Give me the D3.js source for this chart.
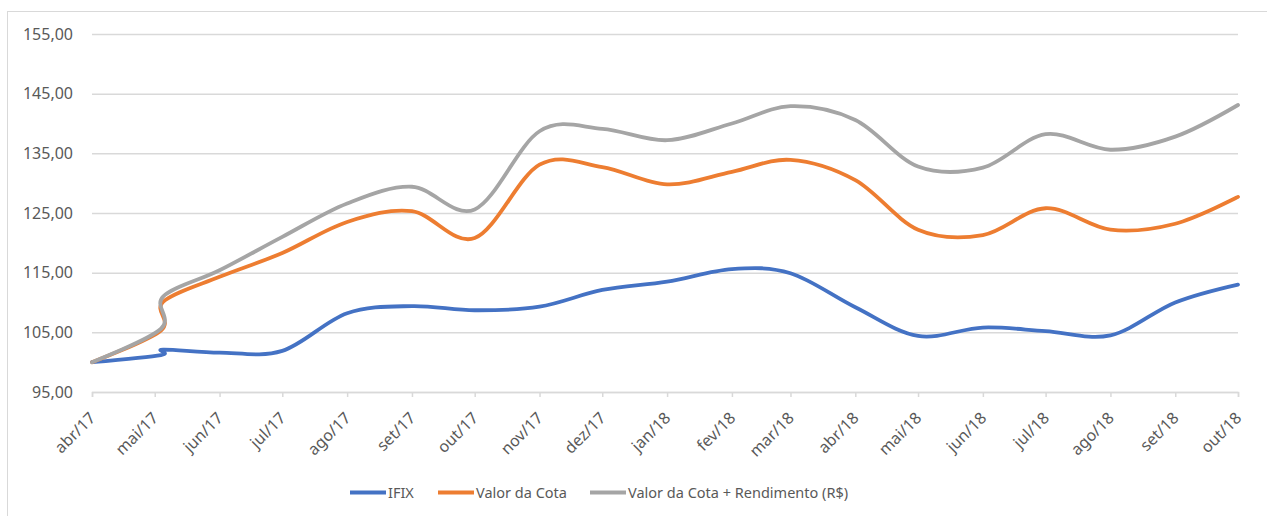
<!DOCTYPE html>
<html lang="pt">
  <head>
    <meta charset="UTF-8" />
    <title>IFIX x Valor da Cota</title>
    <script src="https://cdnjs.cloudflare.com/ajax/libs/d3/7.8.5/d3.min.js"></script>
    <style>
      body,
      html {
        margin: 0;
        padding: 0;
        background: #fff;
      }
      svg {
        display: block;
      }
      text {
        font-family: "Noto Sans", "Open Sans", sans-serif;
        fill: #595959;
      }
    </style>
  </head>
  <body>
    <svg width="1267" height="516"></svg>
    <script>
      // datas dos pontos (duas leituras no inicio de maio/17)
      const dates = [
        "2017-04-01", "2017-05-04", "2017-05-05", "2017-06-01", "2017-07-01",
        "2017-08-01", "2017-09-01", "2017-10-01", "2017-11-01", "2017-12-01",
        "2018-01-01", "2018-02-01", "2018-03-01", "2018-04-01", "2018-05-01",
        "2018-06-01", "2018-07-01", "2018-08-01", "2018-09-01", "2018-10-01",
      ];
      const ifix = [
        100.0, 101.2, 102.1, 101.6, 101.9, 108.2, 109.4, 108.7, 109.3, 112.1,
        113.5, 115.6, 114.9, 109.2, 104.4, 105.8, 105.2, 104.5, 110.0, 113.0,
      ];
      const valorCota = [
        100.0, 105.3, 110.1, 114.3, 118.3, 123.5, 125.3, 120.8, 133.1, 132.7,
        129.8, 131.9, 133.9, 130.5, 122.2, 121.3, 125.8, 122.2, 123.2, 127.7,
      ];
      const cotaRendimento = [
        100.0, 105.6, 111.0, 115.4, 121.0, 126.6, 129.4, 125.6, 138.7, 139.1,
        137.2, 140.0, 142.9, 140.6, 132.8, 132.6, 138.2, 135.6, 137.8, 143.1,
      ];
      const tickLabels = [
        "abr/17", "mai/17", "jun/17", "jul/17", "ago/17", "set/17", "out/17",
        "nov/17", "dez/17", "jan/18", "fev/18", "mar/18", "abr/18", "mai/18",
        "jun/18", "jul/18", "ago/18", "set/18", "out/18",
      ];
      const yTicks = [95, 105, 115, 125, 135, 145, 155];
      const seriesNames = ["IFIX", "Valor da Cota", "Valor da Cota + Rendimento (R$)"];
      const seriesColors = ["#4472C4", "#ED7D31", "#A5A5A5"];

      const parse = d3.timeParse("%Y-%m-%d");
      const xDates = dates.map(parse);
      const series = [ifix, valorCota, cotaRendimento].map((vals, i) => ({
        name: seriesNames[i],
        color: seriesColors[i],
        points: vals.map((v, j) => ({ date: xDates[j], value: v })),
      }));

      const br = d3.formatLocale({
        decimal: ",",
        thousands: ".",
        grouping: [3],
        currency: ["R$", ""],
      });
      const fmt = br.format(".2f");

      const svg = d3.select("svg");
      const margin = { left: 92, right: 29, top: 34, bottom: 124 };
      const width = 1267;
      const height = 516;

      const x = d3
        .scaleTime()
        .domain([xDates[0], xDates[xDates.length - 1]])
        .range([margin.left, width - margin.right]);
      const y = d3
        .scaleLinear()
        .domain([95, 155])
        .range([height - margin.bottom, margin.top]);

      // moldura do grafico
      svg
        .append("rect")
        .attr("x", 7.5)
        .attr("y", 11.5)
        .attr("width", 1300)
        .attr("height", 520)
        .attr("fill", "none")
        .attr("stroke", "#d9d9d9")
        .attr("stroke-width", 1);

      // grade horizontal e rotulos do eixo y
      const yAxis = d3
        .axisLeft(y)
        .tickValues(yTicks)
        .tickSize(-(width - margin.left - margin.right))
        .tickPadding(19)
        .tickFormat(fmt);
      svg
        .append("g")
        .attr("transform", `translate(${margin.left},0)`)
        .call(yAxis)
        .call((g) => g.select(".domain").remove())
        .call((g) =>
          g.selectAll(".tick line").attr("stroke", "#d9d9d9").attr("stroke-width", 1.5)
        )
        .call((g) =>
          g
            .selectAll(".tick text")
            .attr("font-size", 16)
            .attr("fill", "#595959")
            .attr("font-family", "Noto Sans, sans-serif")
        );

      // eixo x com marcas mensais
      const months = d3.timeMonth.range(xDates[0], d3.timeDay.offset(xDates[xDates.length - 1], 1));
      const xAxis = d3
        .axisBottom(x)
        .tickValues(months)
        .tickSize(5)
        .tickFormat((d, i) => tickLabels[i]);
      const gx = svg
        .append("g")
        .attr("transform", `translate(0,${y(95)})`)
        .call(xAxis);
      gx.select(".domain").attr("stroke", "#d9d9d9").attr("stroke-width", 1.5);
      gx.selectAll(".tick line").attr("stroke", "#d9d9d9").attr("stroke-width", 1.5);
      gx.selectAll(".tick text")
        .attr("font-size", 16)
        .attr("font-family", "Noto Sans, sans-serif")
        .attr("fill", "#595959")
        .attr("text-anchor", "end")
        .attr("y", 0)
        .attr("dy", 0)
        .attr("transform", "translate(4,27) rotate(-45)");

      // linhas suavizadas
      const line = d3
        .line()
        .x((d) => x(d.date))
        .y((d) => y(d.value))
        .curve(d3.curveCatmullRom.alpha(0));

      svg
        .append("g")
        .selectAll("path")
        .data(series)
        .join("path")
        .attr("d", (d) => line(d.points))
        .attr("fill", "none")
        .attr("stroke", (d) => d.color)
        .attr("stroke-width", 3.8)
        .attr("stroke-linejoin", "round")
        .attr("stroke-linecap", "round");

      // legenda
      const legendX = [350, 438, 590];
      const legend = svg
        .append("g")
        .selectAll("g")
        .data(series)
        .join("g")
        .attr("transform", (d, i) => `translate(${legendX[i]},492.5)`);
      legend
        .append("line")
        .attr("x1", 0)
        .attr("x2", 36)
        .attr("stroke", (d) => d.color)
        .attr("stroke-width", 3.8);
      legend
        .append("text")
        .attr("x", 38)
        .attr("dy", "0.35em")
        .attr("font-size", 14.5)
        .text((d) => d.name);
    </script>
  </body>
</html>
